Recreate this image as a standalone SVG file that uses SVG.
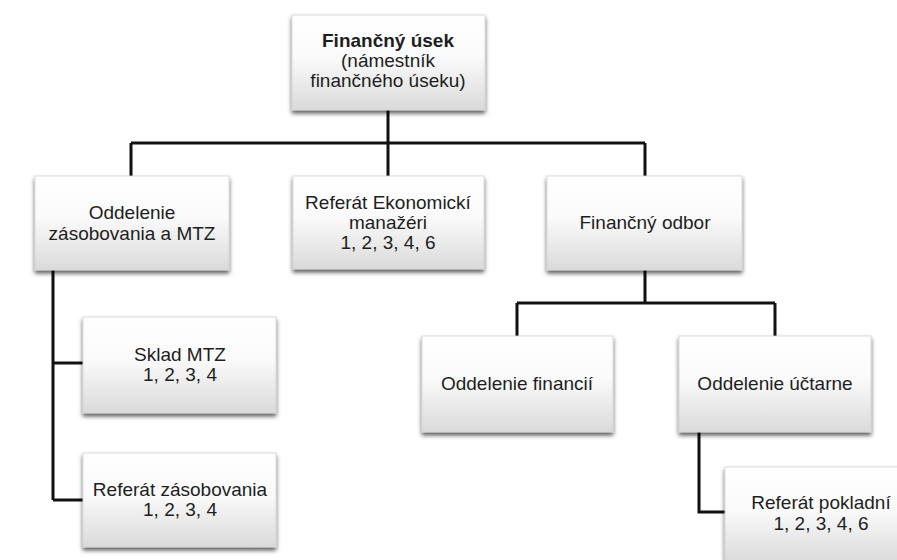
<svg xmlns="http://www.w3.org/2000/svg" width="897" height="560" viewBox="0 0 897 560">
<defs>
<linearGradient id="g" x1="0" y1="0" x2="0" y2="1">
<stop offset="0" stop-color="#ffffff"/>
<stop offset="0.45" stop-color="#fafafa"/>
<stop offset="1" stop-color="#dadada"/>
</linearGradient>
<filter id="sh" x="-10%" y="-10%" width="120%" height="130%">
<feDropShadow dx="0" dy="3" stdDeviation="2" flood-color="#000" flood-opacity="0.65"/>
</filter>
</defs>
<style>
.box{fill:url(#g);stroke:#d2d2d2;stroke-width:0.8;filter:url(#sh)}
.t{font-family:"Liberation Sans",Arial,sans-serif;font-size:19px;fill:#1e1e1e;text-anchor:middle}
.b{font-weight:bold}
.c{fill:none;stroke:#111;stroke-width:3}
</style>
<rect width="897" height="560" fill="#fff"/>
<g id="connectors">
<path class="c" d="M388,110 V143 M131,143 H645 M131,143 V176 M388,143 V176 M645,143 V176"/>
<path class="c" d="M645,270 V303 M517,303 H775 M517,303 V336 M775,303 V336"/>
<path class="c" d="M53,270 V500 M53,363 H83 M53,500 H83"/>
<path class="c" d="M699,432 V512 H725"/>
</g>
<g id="n0">
<rect class="box" x="292" y="15" width="193" height="95"/>
<text class="t b" x="388" y="47">Finančný úsek</text>
<text class="t" x="388" y="67">(námestník</text>
<text class="t" x="388" y="87">finančného úseku)</text>
</g>
<g id="n1">
<rect class="box" x="35" y="176" width="194" height="94"/>
<text class="t" x="132" y="219">Oddelenie</text>
<text class="t" x="132" y="240">zásobovania a MTZ</text>
</g>
<g id="n2">
<rect class="box" x="293" y="176" width="191" height="93"/>
<text class="t" x="388" y="209">Referát Ekonomickí</text>
<text class="t" x="388" y="229">manažéri</text>
<text class="t" x="388" y="249">1, 2, 3, 4, 6</text>
</g>
<g id="n3">
<rect class="box" x="547" y="176" width="195" height="94"/>
<text class="t" x="645" y="229">Finančný odbor</text>
</g>
<g id="n4">
<rect class="box" x="83" y="317" width="193" height="96"/>
<text class="t" x="180" y="361">Sklad MTZ</text>
<text class="t" x="180" y="381">1, 2, 3, 4</text>
</g>
<g id="n5">
<rect class="box" x="83" y="453" width="193" height="94"/>
<text class="t" x="180" y="496">Referát zásobovania</text>
<text class="t" x="180" y="516">1, 2, 3, 4</text>
</g>
<g id="n6">
<rect class="box" x="422" y="336" width="191" height="96"/>
<text class="t" x="517" y="390">Oddelenie financií</text>
</g>
<g id="n7">
<rect class="box" x="679" y="336" width="192" height="96"/>
<text class="t" x="775" y="390">Oddelenie účtarne</text>
</g>
<g id="n8">
<rect class="box" x="725" y="467" width="194" height="96"/>
<text class="t" x="821" y="509">Referát pokladní</text>
<text class="t" x="821" y="530">1, 2, 3, 4, 6</text>
</g>
</svg>
